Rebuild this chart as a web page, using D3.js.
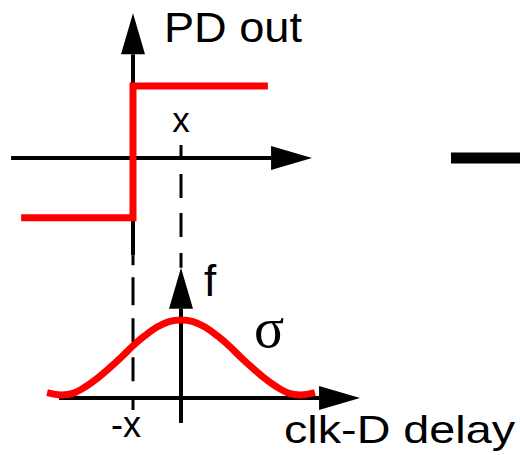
<!DOCTYPE html>
<html>
<head>
<meta charset="utf-8">
<script src="https://cdn.jsdelivr.net/npm/d3@7"></script>
<style>
  html, body { margin: 0; padding: 0; background: #fff; }
  svg { display: block; }
  text { font-family: "Liberation Sans", Arial, Helvetica, sans-serif; fill: #000; }
</style>
</head>
<body>
<svg id="chart" width="520" height="455"></svg>
<script>
// Phase-detector transfer (top) and clock-to-data delay distribution (bottom).
// Delay is measured in units of the offset x.

// Top panel: PD output step
const stepDelay = [-2.33, 0, 2.81];
const stepOutput = [-0.83, 1, 1];

// Bottom panel: delay density f
const densityDelay = [-2.79, -2.5, -2.25, -2, -1.75, -1.5, -1.25, -1, -0.75, -0.5, -0.25, 0,
                      0.25, 0.5, 0.75, 1, 1.25, 1.5, 1.75, 2, 2.25, 2.5, 2.79];
const densityValue = [0.07, 0.04, 0.06, 0.14, 0.25, 0.38, 0.52, 0.67, 0.80, 0.91, 0.98, 1.0,
                      0.98, 0.91, 0.80, 0.67, 0.52, 0.38, 0.25, 0.14, 0.06, 0.04, 0.07];

// Axis extents (delay units / output units)
const delayAxisExtent = [-2.54, 3.73];
const topOutputExtent = [-1.35, 2.01];
const bottomDensityExtent = [-0.32, 1.67];

// Marked offsets
const markTop = 1;     // "x"
const markBottom = -1; // "-x"

const svg = d3.select("#chart");

const xTop = d3.scaleLinear().domain([0, 1]).range([133, 181]);
const yTop = d3.scaleLinear().domain([0, 1]).range([158, 86]);
const xBot = d3.scaleLinear().domain([0, 1]).range([181, 229]);
const yBot = d3.scaleLinear().domain([0, 1]).range([398, 320]);

const RED = "#ff0000";

// arrow-tipped axis line
function axisArrow(x1, y1, x2, y2) {
  const dx = x2 - x1, dy = y2 - y1;
  const len = Math.hypot(dx, dy);
  const ux = dx / len, uy = dy / len;
  const headLen = 41, headHalf = 12;
  const bx = x2 - ux * headLen, by = y2 - uy * headLen;
  svg.append("line")
    .attr("x1", x1).attr("y1", y1).attr("x2", bx).attr("y2", by)
    .attr("stroke", "#000").attr("stroke-width", 4);
  svg.append("path")
    .attr("d", `M${x2},${y2}L${bx - uy * headHalf},${by + ux * headHalf}L${bx + uy * headHalf},${by - ux * headHalf}Z`)
    .attr("fill", "#000");
}

// dashed guide lines at ±x
svg.append("line")
  .attr("x1", xTop(markTop)).attr("x2", xTop(markTop))
  .attr("y1", 145).attr("y2", yBot(bottomDensityExtent[1]))
  .attr("stroke", "#000").attr("stroke-width", 3)
  .attr("stroke-dasharray", "13,16,24,15,24,16,24,15");
svg.append("line")
  .attr("x1", xBot(markBottom)).attr("x2", xBot(markBottom))
  .attr("y1", yTop(topOutputExtent[0])).attr("y2", 410)
  .attr("stroke", "#000").attr("stroke-width", 3)
  .attr("stroke-dasharray", "10,12,28,13,24,15,24,15,24,15,24,15");

// top axes
axisArrow(xTop(delayAxisExtent[0]), yTop(0), xTop(delayAxisExtent[1]), yTop(0));
axisArrow(xTop(0), yTop(topOutputExtent[0]), xTop(0), yTop(topOutputExtent[1]));

// bottom axes
axisArrow(xBot(delayAxisExtent[0]), yBot(0), xBot(delayAxisExtent[1]), yBot(0));
axisArrow(xBot(0), yBot(bottomDensityExtent[0]), xBot(0), yBot(bottomDensityExtent[1]));

// PD output step
const stepData = stepDelay.map((d, i) => ({ d, v: stepOutput[i] }));
svg.append("path")
  .datum(stepData)
  .attr("d", d3.line().x(p => xTop(p.d)).y(p => yTop(p.v)).curve(d3.curveStepAfter))
  .attr("fill", "none").attr("stroke", RED).attr("stroke-width", 7)
  .attr("stroke-linejoin", "miter");

// delay density
const densData = densityDelay.map((d, i) => ({ d, v: densityValue[i] }));
svg.append("path")
  .datum(densData)
  .attr("d", d3.line().x(p => xBot(p.d)).y(p => yBot(p.v)).curve(d3.curveCatmullRom))
  .attr("fill", "none").attr("stroke", RED).attr("stroke-width", 7);

// cut-off stroke at the right edge
svg.append("line")
  .attr("x1", 451).attr("x2", 520).attr("y1", yTop(0)).attr("y2", yTop(0))
  .attr("stroke", "#000").attr("stroke-width", 11);

// labels
svg.append("text").attr("x", 164).attr("y", 42)
  .attr("font-size", 42).attr("textLength", 138).attr("lengthAdjust", "spacingAndGlyphs")
  .text("PD out");
svg.append("text").attr("x", xTop(markTop)).attr("y", 132)
  .attr("font-size", 35).attr("text-anchor", "middle").text("x");
svg.append("text").attr("x", 111).attr("y", 437)
  .attr("font-size", 36).text("-x");
svg.append("text").attr("x", 204).attr("y", 296)
  .attr("font-size", 44).text("f");
svg.append("text").attr("x", 254).attr("y", 347)
  .attr("font-size", 56).style("font-family", "'Liberation Serif', 'Times New Roman', serif")
  .text("σ");
svg.append("text").attr("x", 284).attr("y", 443)
  .attr("font-size", 39).attr("textLength", 231).attr("lengthAdjust", "spacingAndGlyphs")
  .text("clk-D delay");
</script>
</body>
</html>
